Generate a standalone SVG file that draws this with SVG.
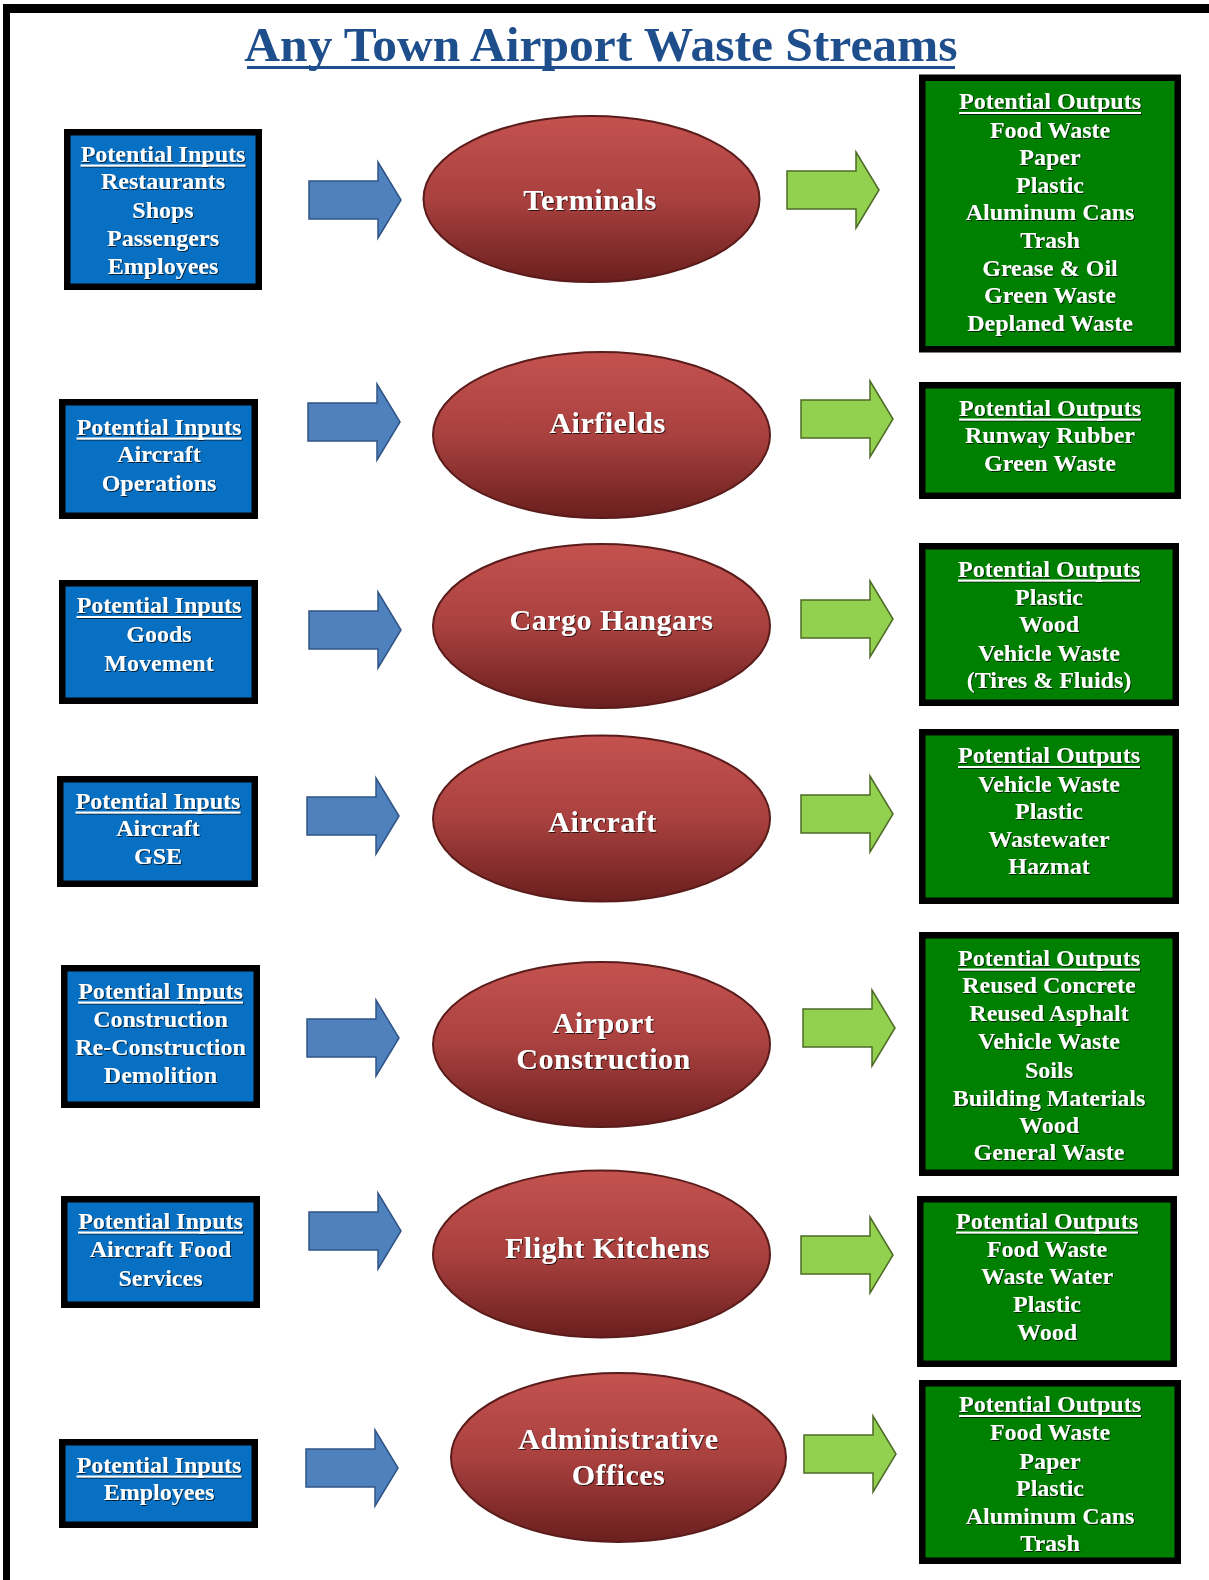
<svg xmlns="http://www.w3.org/2000/svg" width="1209" height="1580" viewBox="0 0 1209 1580">
<defs>
<linearGradient id="red" x1="0" y1="0" x2="0" y2="1">
<stop offset="0" stop-color="#c4524f"/>
<stop offset="0.5" stop-color="#a9413f"/>
<stop offset="1" stop-color="#6a1f1e"/>
</linearGradient>
<filter id="ts" x="-10%" y="-30%" width="120%" height="160%">
<feDropShadow dx="1" dy="1" stdDeviation="0.5" flood-color="#000" flood-opacity="0.7"/>
</filter>
<path id="arr" d="M0,-19 H69 V-38 L92,0 L69,38 V19 H0 Z"/>
</defs>
<style>
.frame{fill:#000}
.bo{fill:#000}
.bi{fill:#0870c2}
.gi{fill:#008000}
.ell{fill:url(#red);stroke:#5a1c1b;stroke-width:2}
.bt{font-family:"Liberation Serif","Times New Roman",serif;font-weight:bold;font-size:24px;fill:#fff;text-anchor:middle}
.et{font-family:"Liberation Serif","Times New Roman",serif;font-weight:bold;font-size:30px;letter-spacing:0.5px;fill:#fff;text-anchor:middle}
.ul{fill:#fff}
.ba{fill:#4f81bd;stroke:#2f5487;stroke-width:1.5}
.ga{fill:#92d050;stroke:#4d6b26;stroke-width:1.5}
.title{font-family:"Liberation Serif","Times New Roman",serif;font-weight:bold;font-size:49.5px;fill:#1f4e8c;text-anchor:middle}
</style>
<rect width="1209" height="1580" fill="#fff"/>
<rect class="frame" x="3" y="4" width="1206" height="9"/>
<rect class="frame" x="3" y="4" width="7" height="1576"/>

<g id="title">
<text class="title" x="601" y="61">Any Town Airport Waste Streams</text>
<rect x="247" y="66" width="708" height="3" fill="#1f4e8c"/>
</g>

<g id="connectors">
<use href="#arr" class="ba" x="309" y="200"/>
<use href="#arr" class="ba" x="308" y="422"/>
<use href="#arr" class="ba" x="309" y="630"/>
<use href="#arr" class="ba" x="307" y="816"/>
<use href="#arr" class="ba" x="307" y="1038"/>
<use href="#arr" class="ba" x="309" y="1231"/>
<use href="#arr" class="ba" x="306" y="1468"/>
<use href="#arr" class="ga" x="787" y="190"/>
<use href="#arr" class="ga" x="801" y="419"/>
<use href="#arr" class="ga" x="801" y="619"/>
<use href="#arr" class="ga" x="801" y="814"/>
<use href="#arr" class="ga" x="803" y="1028"/>
<use href="#arr" class="ga" x="801" y="1255"/>
<use href="#arr" class="ga" x="804" y="1454"/>
</g>

<!-- Input boxes -->
<g id="in-terminals">
<rect class="bo" x="64" y="129" width="198" height="161"/>
<rect class="bi" x="70.5" y="135.5" width="185" height="148"/>
<g class="bt" filter="url(#ts)">
<text x="163" y="161.5">Potential Inputs</text>
<rect class="ul" x="80.5" y="164.5" width="165" height="2"/>
<text x="163" y="188.5">Restaurants</text>
<text x="163" y="218">Shops</text>
<text x="163" y="245.5">Passengers</text>
<text x="163" y="273.5">Employees</text>
</g>
</g>
<g id="in-airfields">
<rect class="bo" x="59" y="399" width="199" height="120"/>
<rect class="bi" x="65.5" y="405.5" width="186" height="107"/>
<g class="bt" filter="url(#ts)">
<text x="159" y="434.5">Potential Inputs</text>
<rect class="ul" x="76.5" y="437.5" width="165" height="2"/>
<text x="159" y="461.5">Aircraft</text>
<text x="159" y="491">Operations</text>
</g>
</g>
<g id="in-cargo">
<rect class="bo" x="59" y="580" width="199" height="124"/>
<rect class="bi" x="65.5" y="586.5" width="186" height="111"/>
<g class="bt" filter="url(#ts)">
<text x="159" y="613">Potential Inputs</text>
<rect class="ul" x="76.5" y="616" width="165" height="2"/>
<text x="159" y="641.5">Goods</text>
<text x="159" y="670.5">Movement</text>
</g>
</g>
<g id="in-aircraft">
<rect class="bo" x="57" y="776" width="201" height="111"/>
<rect class="bi" x="63.5" y="782.5" width="188" height="98"/>
<g class="bt" filter="url(#ts)">
<text x="158" y="808.5">Potential Inputs</text>
<rect class="ul" x="75.5" y="811.5" width="165" height="2"/>
<text x="158" y="835.5">Aircraft</text>
<text x="158" y="863.5">GSE</text>
</g>
</g>
<g id="in-construction">
<rect class="bo" x="61" y="965" width="199" height="143"/>
<rect class="bi" x="67.5" y="971.5" width="186" height="130"/>
<g class="bt" filter="url(#ts)">
<text x="160.5" y="998.5">Potential Inputs</text>
<rect class="ul" x="78" y="1001.5" width="165" height="2"/>
<text x="160.5" y="1027">Construction</text>
<text x="160.5" y="1054.5">Re-Construction</text>
<text x="160.5" y="1082.5">Demolition</text>
</g>
</g>
<g id="in-kitchens">
<rect class="bo" x="61" y="1196" width="199" height="112"/>
<rect class="bi" x="67.5" y="1202.5" width="186" height="99"/>
<g class="bt" filter="url(#ts)">
<text x="160.5" y="1228.5">Potential Inputs</text>
<rect class="ul" x="78" y="1231.5" width="165" height="2"/>
<text x="160.5" y="1256.5">Aircraft Food</text>
<text x="160.5" y="1285.5">Services</text>
</g>
</g>
<g id="in-admin">
<rect class="bo" x="59" y="1439" width="199" height="89"/>
<rect class="bi" x="65.5" y="1445.5" width="186" height="76"/>
<g class="bt" filter="url(#ts)">
<text x="159" y="1472.5">Potential Inputs</text>
<rect class="ul" x="76.5" y="1475.5" width="165" height="2"/>
<text x="159" y="1499.5">Employees</text>
</g>
</g>

<!-- Ellipses -->
<g id="terminals">
<ellipse class="ell" cx="591.5" cy="199" rx="168" ry="83"/>
<text class="et" x="590" y="210" filter="url(#ts)">Terminals</text>
</g>
<g id="airfields">
<ellipse class="ell" cx="601.5" cy="435" rx="168.5" ry="83"/>
<text class="et" x="607.5" y="433" filter="url(#ts)">Airfields</text>
</g>
<g id="cargo-hangars">
<ellipse class="ell" cx="601.5" cy="626" rx="168.5" ry="82"/>
<text class="et" x="611.5" y="630" filter="url(#ts)">Cargo Hangars</text>
</g>
<g id="aircraft">
<ellipse class="ell" cx="601.5" cy="818.5" rx="168.5" ry="83"/>
<text class="et" x="602.5" y="832" filter="url(#ts)">Aircraft</text>
</g>
<g id="airport-construction">
<ellipse class="ell" cx="601.5" cy="1044.5" rx="168.5" ry="82.5"/>
<g class="et" filter="url(#ts)">
<text x="603.5" y="1033">Airport</text>
<text x="603.5" y="1069">Construction</text>
</g>
</g>
<g id="flight-kitchens">
<ellipse class="ell" cx="601.5" cy="1254" rx="168.5" ry="83.5"/>
<text class="et" x="607.5" y="1258" filter="url(#ts)">Flight Kitchens</text>
</g>
<g id="administrative-offices">
<ellipse class="ell" cx="618.5" cy="1457.5" rx="167.5" ry="84.5"/>
<g class="et" filter="url(#ts)">
<text x="618.5" y="1449">Administrative</text>
<text x="618.5" y="1485">Offices</text>
</g>
</g>

<!-- Output boxes -->
<g id="out-terminals">
<rect class="bo" x="919" y="74.5" width="262" height="278"/>
<rect class="gi" x="925.5" y="81" width="249" height="265"/>
<g class="bt" filter="url(#ts)">
<text x="1050" y="109">Potential Outputs</text>
<rect class="ul" x="959" y="112" width="182" height="2"/>
<text x="1050" y="137.5">Food Waste</text>
<text x="1050" y="164.5">Paper</text>
<text x="1050" y="192.5">Plastic</text>
<text x="1050" y="220">Aluminum Cans</text>
<text x="1050" y="248">Trash</text>
<text x="1050" y="275.5">Grease &amp; Oil</text>
<text x="1050" y="302.5">Green Waste</text>
<text x="1050" y="331">Deplaned Waste</text>
</g>
</g>
<g id="out-airfields">
<rect class="bo" x="919" y="382" width="262" height="117"/>
<rect class="gi" x="925.5" y="388.5" width="249" height="104"/>
<g class="bt" filter="url(#ts)">
<text x="1050" y="415.5">Potential Outputs</text>
<rect class="ul" x="959" y="418.5" width="182" height="2"/>
<text x="1050" y="442.5">Runway Rubber</text>
<text x="1050" y="471">Green Waste</text>
</g>
</g>
<g id="out-cargo">
<rect class="bo" x="919" y="543" width="260" height="163"/>
<rect class="gi" x="925.5" y="549.5" width="247" height="150"/>
<g class="bt" filter="url(#ts)">
<text x="1049" y="576.5">Potential Outputs</text>
<rect class="ul" x="958" y="579.5" width="182" height="2"/>
<text x="1049" y="605">Plastic</text>
<text x="1049" y="632">Wood</text>
<text x="1049" y="660.5">Vehicle Waste</text>
<text x="1049" y="687.5">(Tires &amp; Fluids)</text>
</g>
</g>
<g id="out-aircraft">
<rect class="bo" x="919" y="729" width="260" height="175"/>
<rect class="gi" x="925.5" y="735.5" width="247" height="162"/>
<g class="bt" filter="url(#ts)">
<text x="1049" y="763">Potential Outputs</text>
<rect class="ul" x="958" y="766" width="182" height="2"/>
<text x="1049" y="791.5">Vehicle Waste</text>
<text x="1049" y="818.5">Plastic</text>
<text x="1049" y="846.5">Wastewater</text>
<text x="1049" y="874">Hazmat</text>
</g>
</g>
<g id="out-construction">
<rect class="bo" x="919" y="932" width="260" height="244"/>
<rect class="gi" x="925.5" y="938.5" width="247" height="231"/>
<g class="bt" filter="url(#ts)">
<text x="1049" y="965.5">Potential Outputs</text>
<rect class="ul" x="958" y="968.5" width="182" height="2"/>
<text x="1049" y="992.5">Reused Concrete</text>
<text x="1049" y="1021">Reused Asphalt</text>
<text x="1049" y="1048.5">Vehicle Waste</text>
<text x="1049" y="1077.5">Soils</text>
<text x="1049" y="1105.5">Building Materials</text>
<text x="1049" y="1132.5">Wood</text>
<text x="1049" y="1160">General Waste</text>
</g>
</g>
<g id="out-kitchens">
<rect class="bo" x="917" y="1196" width="260" height="171"/>
<rect class="gi" x="923.5" y="1202.5" width="247" height="158"/>
<g class="bt" filter="url(#ts)">
<text x="1047" y="1228.5">Potential Outputs</text>
<rect class="ul" x="956" y="1231.5" width="182" height="2"/>
<text x="1047" y="1256.5">Food Waste</text>
<text x="1047" y="1284">Waste Water</text>
<text x="1047" y="1312">Plastic</text>
<text x="1047" y="1339.5">Wood</text>
</g>
</g>
<g id="out-admin">
<rect class="bo" x="919" y="1380" width="262" height="184"/>
<rect class="gi" x="925.5" y="1386.5" width="249" height="171"/>
<g class="bt" filter="url(#ts)">
<text x="1050" y="1412">Potential Outputs</text>
<rect class="ul" x="959" y="1415" width="182" height="2"/>
<text x="1050" y="1439.5">Food Waste</text>
<text x="1050" y="1468.5">Paper</text>
<text x="1050" y="1495.5">Plastic</text>
<text x="1050" y="1523.5">Aluminum Cans</text>
<text x="1050" y="1550.5">Trash</text>
</g>
</g>
</svg>
